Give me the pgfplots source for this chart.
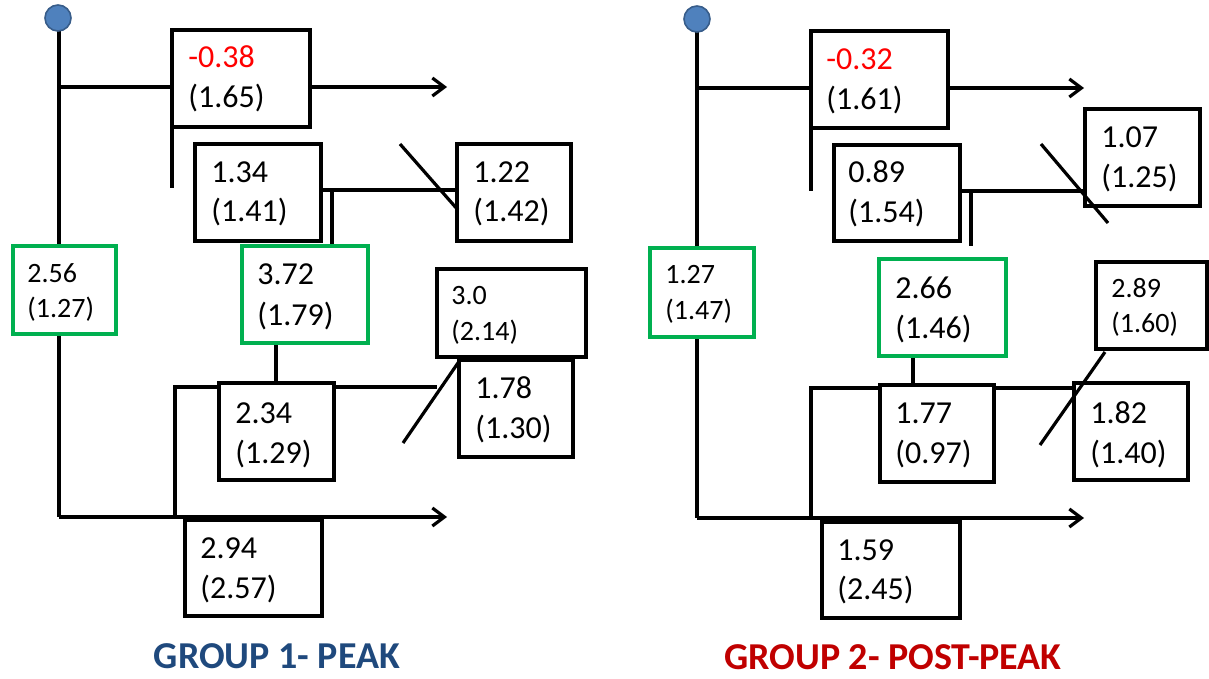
\documentclass[border=0pt]{standalone}
\usepackage{pgfplots}
\pgfplotsset{compat=1.18}
\usepackage{fontspec}
\setmainfont{Carlito}
\usetikzlibrary{arrows.meta}
\definecolor{boxgreen}{RGB}{0,176,80}
\definecolor{dotfill}{RGB}{79,129,189}
\definecolor{dotedge}{RGB}{56,93,138}
\definecolor{titleblue}{RGB}{31,73,125}
\definecolor{titlered}{RGB}{192,0,0}
\definecolor{valred}{RGB}{255,0,0}

% box: [colour] left, top, right, bottom (pixel units, y downwards)
\newcommand{\bx}[5][black]{%
  \addplot[#1, line width=1.8pt, line join=miter] coordinates {(#2,#3) (#4,#3) (#4,#5) (#2,#5)} -- cycle;}
% value pair: x, baseline 1, baseline 2, font size, line 1, line 2
\newcommand{\vals}[6]{%
  \node[anchor=base west, inner sep=0pt, font=\fontsize{#4}{#4}\selectfont] at (axis cs:#1,#2) {#5};
  \node[anchor=base west, inner sep=0pt, font=\fontsize{#4}{#4}\selectfont] at (axis cs:#1,#3) {#6};}

\begin{document}
\begin{tikzpicture}
\begin{axis}[
  width=604.5pt, height=339.5pt, scale only axis,
  xmin=0, xmax=1209, ymin=0, ymax=679, y dir=reverse,
  hide axis, clip=false,
  every axis plot/.append style={line width=1.6pt},
  arr/.style={-{Straight Barb[length=6pt,width=9pt]}},
]
\addplot[draw=none] coordinates {(0,0) (1209,679)};

% ---------------- group 1: peak ----------------
\addplot[black] coordinates {(59,18) (59,246)};
\addplot[black] coordinates {(59,334) (59,517)};
\addplot[black] coordinates {(59,87) (172,87)};
\addplot[black, arr] coordinates {(310,87) (447,87)};
\addplot[black] coordinates {(172,127) (172,188)};
\addplot[black] coordinates {(321,190) (457,190)};
\addplot[black] coordinates {(332,190) (332,246)};
\addplot[black] coordinates {(400,144) (458,210)};
\addplot[black] coordinates {(276,343) (276,383)};
\addplot[black] coordinates {(175,517) (175,387) (219,387)};
\addplot[black] coordinates {(334,387) (437,387)};
\addplot[black] coordinates {(403,443) (460,360)};
\addplot[black, arr] coordinates {(59,517) (447,517)};

\bx{172}{30}{310}{127}
\bx{195}{144}{321}{241}
\bx{457}{144}{571}{241}
\bx[boxgreen]{13}{246}{116}{334}
\bx[boxgreen]{242}{246}{368}{343}
\bx{437}{269}{586}{357}
\bx{459}{360}{573}{457}
\bx{219}{383}{334}{480}
\bx{185}{520}{322}{616}

\addplot[only marks, mark=*, mark size=6.5pt, mark options={fill=dotfill, draw=dotedge, line width=0.8pt}] coordinates {(58,18)};

\vals{188}{68}{108}{16}{\textcolor{valred}{-0.38}}{(1.65)}
\vals{211}{183}{222}{16}{1.34}{(1.41)}
\vals{473}{183}{222}{16}{1.22}{(1.42)}
\vals{27}{282}{317}{14}{2.56}{(1.27)}
\vals{257}{285}{325}{16}{3.72}{(1.79)}
\vals{451}{304}{340}{14}{3.0}{(2.14)}
\vals{475}{398}{438}{16}{1.78}{(1.30)}
\vals{235}{423}{463}{16}{2.34}{(1.29)}
\vals{200}{558}{598}{16}{2.94}{(2.57)}

\node[anchor=base, inner sep=0pt, text depth=0pt, text=titleblue, font=\fontsize{19}{19}\selectfont\bfseries] at (axis cs:277,668) {GROUP 1- PEAK};

% ---------------- group 2: post-peak ----------------
\addplot[black] coordinates {(697,20) (697,248)};
\addplot[black] coordinates {(697,337) (697,518)};
\addplot[black] coordinates {(697,88) (811,88)};
\addplot[black, arr] coordinates {(948,88) (1084,88)};
\addplot[black] coordinates {(811,128) (811,191)};
\addplot[black] coordinates {(960,191) (1085,191)};
\addplot[black] coordinates {(971,191) (971,246)};
\addplot[black] coordinates {(1041,144) (1108,223)};
\addplot[black] coordinates {(913,356) (913,385)};
\addplot[black] coordinates {(811,518) (811,388) (880,388)};
\addplot[black] coordinates {(994,388) (1074,388)};
\addplot[black] coordinates {(1040,445) (1105,352)};
\addplot[black, arr] coordinates {(697,518) (1084,518)};

\bx{811}{31}{948}{128}
\bx{834}{145}{960}{241}
\bx{1085}{109}{1200}{206}
\bx[boxgreen]{650}{248}{754}{337}
\bx[boxgreen]{879}{259}{1006}{356}
\bx{1096}{262}{1207}{349}
\bx{880}{385}{994}{482}
\bx{1074}{383}{1188}{480}
\bx{822}{522}{960}{618}

\addplot[only marks, mark=*, mark size=6.5pt, mark options={fill=dotfill, draw=dotedge, line width=0.8pt}] coordinates {(697,19)};

\vals{826}{70}{110}{16}{\textcolor{valred}{-0.32}}{(1.61)}
\vals{848}{183}{223}{16}{0.89}{(1.54)}
\vals{1101}{148}{188}{16}{1.07}{(1.25)}
\vals{665}{283}{319}{14}{1.27}{(1.47)}
\vals{895}{298}{338}{16}{2.66}{(1.46)}
\vals{1111}{297}{332}{14}{2.89}{(1.60)}
\vals{895}{423}{463}{16}{1.77}{(0.97)}
\vals{1090}{423}{463}{16}{1.82}{(1.40)}
\vals{837}{560}{599}{16}{1.59}{(2.45)}

\node[anchor=base, inner sep=0pt, text depth=0pt, text=titlered, font=\fontsize{19}{19}\selectfont\bfseries] at (axis cs:893,669) {GROUP 2- POST-PEAK};
\end{axis}
\end{tikzpicture}
\end{document}
